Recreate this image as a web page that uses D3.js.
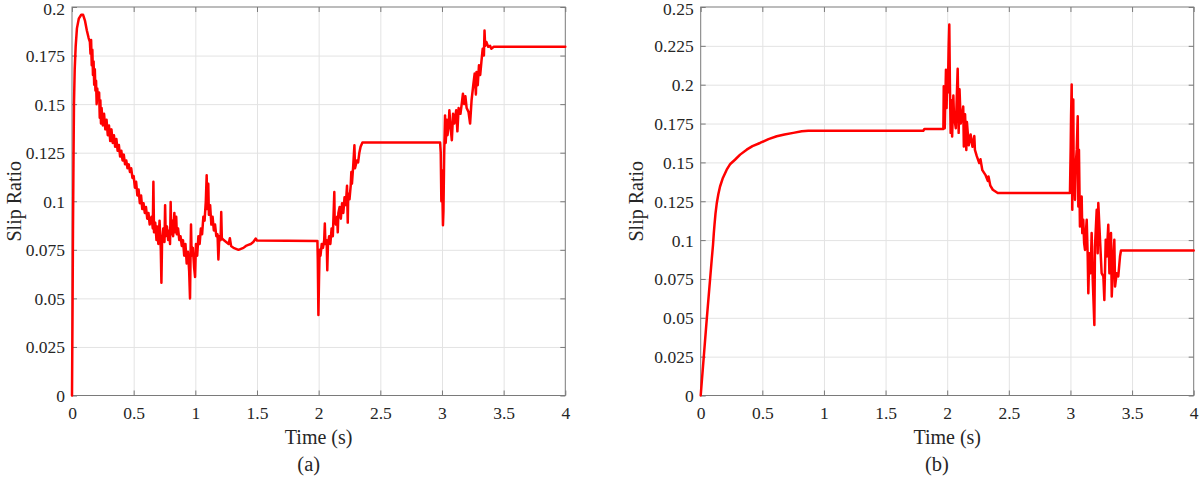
<!DOCTYPE html>
<html><head><meta charset="utf-8">
<script src="https://cdn.jsdelivr.net/npm/d3@7"></script>
<style>body{margin:0;background:#fff}svg{display:block}</style>
</head><body>
<svg id="chart" width="1200" height="480"></svg>
<script>
// ---- data ----
const timeA = [0,0.004,0.008,0.012,0.016,0.022,0.03,0.04,0.055,0.075,0.09,0.105,0.12,0.135,0.145,0.15,0.155,0.16,0.165,0.17,0.175,0.18,0.185,0.19,0.195,0.2,0.205,0.21,0.22,0.225,0.23,0.235,0.24,0.25,0.26,0.27,0.28,0.29,0.3,0.31,0.32,0.33,0.34,0.35,0.36,0.37,0.38,0.39,0.4,0.41,0.42,0.43,0.44,0.45,0.46,0.47,0.48,0.49,0.5,0.51,0.52,0.53,0.54,0.55,0.56,0.57,0.58,0.59,0.6,0.61,0.62,0.63,0.645,0.655,0.66,0.665,0.675,0.685,0.69,0.7,0.71,0.72,0.725,0.73,0.74,0.75,0.755,0.76,0.77,0.78,0.79,0.795,0.8,0.805,0.815,0.82,0.83,0.835,0.845,0.85,0.86,0.87,0.88,0.89,0.9,0.91,0.92,0.93,0.94,0.95,0.957,0.962,0.965,0.97,0.98,0.99,0.998,1.005,1.015,1.025,1.035,1.045,1.055,1.065,1.075,1.085,1.092,1.097,1.105,1.11,1.12,1.13,1.14,1.15,1.16,1.17,1.18,1.187,1.195,1.205,1.21,1.215,1.23,1.25,1.27,1.28,1.29,1.31,1.33,1.35,1.37,1.39,1.41,1.43,1.45,1.47,1.49,1.5,1.99,1.993,1.998,2.003,2.008,2.015,2.025,2.035,2.045,2.05,2.055,2.065,2.07,2.075,2.085,2.095,2.105,2.115,2.127,2.13,2.14,2.15,2.155,2.16,2.17,2.18,2.19,2.2,2.21,2.22,2.23,2.236,2.24,2.25,2.26,2.265,2.27,2.28,2.29,2.295,2.31,2.32,2.33,2.34,2.355,2.985,2.99,2.995,3.0,3.008,3.012,3.018,3.025,3.03,3.04,3.045,3.055,3.06,3.07,3.08,3.09,3.1,3.115,3.125,3.135,3.15,3.16,3.17,3.18,3.19,3.2,3.215,3.228,3.24,3.255,3.265,3.275,3.28,3.29,3.3,3.31,3.32,3.33,3.34,3.345,3.35,3.36,3.375,3.39,3.4,3.42,4.0];
const slipA = [0,0.04,0.085,0.12,0.15,0.168,0.18,0.189,0.194,0.196,0.196,0.193,0.188,0.184,0.182,0.176,0.183,0.17,0.178,0.165,0.172,0.16,0.168,0.157,0.162,0.15,0.158,0.152,0.156,0.143,0.152,0.14,0.148,0.139,0.145,0.137,0.142,0.134,0.139,0.131,0.137,0.13,0.134,0.128,0.132,0.126,0.129,0.123,0.126,0.121,0.124,0.119,0.121,0.117,0.119,0.115,0.117,0.112,0.113,0.107,0.11,0.103,0.106,0.099,0.103,0.096,0.099,0.094,0.097,0.091,0.094,0.088,0.092,0.086,0.11,0.084,0.089,0.08,0.087,0.078,0.09,0.075,0.058,0.078,0.086,0.079,0.098,0.082,0.087,0.08,0.085,0.078,0.0996,0.083,0.09,0.082,0.094,0.084,0.092,0.083,0.086,0.08,0.082,0.077,0.08,0.072,0.078,0.068,0.074,0.064,0.05,0.076,0.088,0.072,0.076,0.066,0.061,0.078,0.072,0.082,0.078,0.086,0.083,0.092,0.09,0.1,0.1134,0.096,0.109,0.093,0.098,0.088,0.092,0.085,0.088,0.082,0.083,0.07,0.082,0.08,0.0945,0.081,0.08,0.079,0.078,0.081,0.077,0.076,0.0755,0.075,0.0755,0.076,0.077,0.0775,0.078,0.079,0.0808,0.0798,0.0796,0.07,0.0414,0.06,0.075,0.072,0.078,0.076,0.08,0.0885,0.078,0.08,0.0645,0.077,0.082,0.078,0.086,0.082,0.1048,0.09,0.088,0.092,0.084,0.094,0.097,0.091,0.099,0.094,0.102,0.098,0.108,0.089,0.104,0.101,0.108,0.115,0.109,0.118,0.1288,0.117,0.121,0.12,0.125,0.128,0.1302,0.1302,0.125,0.1,0.116,0.0877,0.095,0.1245,0.1442,0.13,0.142,0.134,0.14,0.1468,0.138,0.1314,0.145,0.14,0.1468,0.136,0.148,0.145,0.15,0.1554,0.15,0.154,0.148,0.146,0.14,0.152,0.1605,0.1657,0.155,0.1665,0.1597,0.17,0.165,0.172,0.1785,0.175,0.1879,0.18,0.182,0.1795,0.18,0.1785,0.1795,0.1795];

const timeB = [0,0.05,0.09,0.1,0.106,0.112,0.12,0.13,0.143,0.157,0.18,0.211,0.24,0.278,0.32,0.373,0.42,0.481,0.55,0.617,0.68,0.751,0.82,0.873,1.806,1.815,1.969,1.972,1.98,1.99,1.995,2.0,2.005,2.012,2.017,2.022,2.028,2.035,2.04,2.05,2.055,2.07,2.085,2.093,2.1,2.11,2.12,2.13,2.135,2.145,2.155,2.16,2.175,2.19,2.205,2.22,2.225,2.24,2.26,2.27,2.285,2.31,2.33,2.335,2.35,2.37,2.41,2.996,3.002,3.005,3.01,3.015,3.019,3.023,3.027,3.031,3.037,3.044,3.051,3.059,3.064,3.069,3.077,3.084,3.091,3.096,3.104,3.111,3.118,3.125,3.132,3.14,3.145,3.153,3.164,3.172,3.181,3.194,3.199,3.213,3.221,3.226,3.24,3.253,3.267,3.275,3.286,3.294,3.307,3.316,3.329,3.335,3.348,3.356,3.362,3.375,3.388,3.402,3.41,4.0];
const slipB = [0,0.05,0.088,0.097,0.104,0.11,0.117,0.1235,0.1295,0.1345,0.14,0.1453,0.149,0.1517,0.155,0.1582,0.1605,0.1625,0.165,0.1668,0.168,0.169,0.17,0.1703,0.1704,0.1715,0.1715,0.199,0.172,0.2097,0.185,0.205,0.195,0.225,0.2387,0.2,0.169,0.19,0.1667,0.193,0.18,0.172,0.2102,0.169,0.197,0.175,0.18,0.186,0.1603,0.181,0.158,0.176,0.161,0.168,0.16,0.167,0.158,0.154,0.1496,0.152,0.145,0.142,0.138,0.141,0.135,0.1324,0.1303,0.1303,0.16,0.1797,0.2001,0.1195,0.175,0.1904,0.13,0.1432,0.126,0.15,0.1582,0.1797,0.1217,0.1582,0.1088,0.125,0.1281,0.1045,0.1131,0.098,0.0937,0.105,0.1131,0.0894,0.0658,0.0916,0.0787,0.1045,0.0744,0.0454,0.0959,0.1195,0.0916,0.1238,0.1002,0.0787,0.0766,0.0615,0.1002,0.0894,0.1099,0.0787,0.1045,0.0637,0.0894,0.1002,0.0701,0.0787,0.0766,0.0894,0.0933,0.0933];

const xTicks = [0,0.5,1,1.5,2,2.5,3,3.5,4];
const xTickLabels = ["0","0.5","1","1.5","2","2.5","3","3.5","4"];
const yTicksA = [0,0.025,0.05,0.075,0.1,0.125,0.15,0.175,0.2];
const yTickLabelsA = ["0","0.025","0.05","0.075","0.1","0.125","0.15","0.175","0.2"];
const yTicksB = [0,0.025,0.05,0.075,0.1,0.125,0.15,0.175,0.2,0.225,0.25];
const yTickLabelsB = ["0","0.025","0.05","0.075","0.1","0.125","0.15","0.175","0.2","0.225","0.25"];
const xTitle = "Time (s)";
const yTitle = "Slip Ratio";
const captions = ["(a)","(b)"];

// ---- drawing ----
const svg = d3.select("#chart");
const FONT = "'Liberation Serif','Times New Roman',serif";
const AXC = "#7a7a7a", TXC = "#262626", GRID = "#e3e3e3";

function panel(cfg){
  const x = d3.scaleLinear().domain([0,4]).range([cfg.left, cfg.right]);
  const y = d3.scaleLinear().domain([0,cfg.yMax]).range([cfg.bottom, cfg.top]);
  const g = svg.append("g");
  const h = cfg.bottom - cfg.top, w = cfg.right - cfg.left;

  // grid
  g.append("g").attr("transform",`translate(0,${cfg.bottom})`)
    .call(d3.axisBottom(x).tickValues(cfg.xTicks.slice(1,-1)).tickSize(-h).tickFormat(""))
    .call(s=>{s.select(".domain").remove(); s.selectAll("line").attr("stroke",GRID).attr("stroke-width",1);});
  g.append("g").attr("transform",`translate(${cfg.left},0)`)
    .call(d3.axisLeft(y).tickValues(cfg.yTicks.slice(1,-1)).tickSize(-w).tickFormat(""))
    .call(s=>{s.select(".domain").remove(); s.selectAll("line").attr("stroke",GRID).attr("stroke-width",1);});

  // box
  g.append("rect").attr("x",cfg.left).attr("y",cfg.top).attr("width",w).attr("height",h)
    .attr("fill","none").attr("stroke",AXC).attr("stroke-width",1);

  const style = s => {
    s.select(".domain").remove();
    s.selectAll("line").attr("stroke",AXC).attr("stroke-width",1);
    s.selectAll("text").attr("fill",TXC).attr("font-family",null).style("font-family",FONT).style("font-size","17.5px");
  };
  // bottom axis
  g.append("g").attr("transform",`translate(0,${cfg.bottom})`)
    .call(d3.axisBottom(x).tickValues(cfg.xTicks).tickSizeInner(-5).tickSizeOuter(0)
      .tickFormat((d,i)=>cfg.xTickLabels[i]))
    .call(style)
    .call(s=>s.selectAll("text").attr("y",23.5).attr("dy",null));
  // top axis ticks
  g.append("g").attr("transform",`translate(0,${cfg.top})`)
    .call(d3.axisTop(x).tickValues(cfg.xTicks).tickSizeInner(-5).tickSizeOuter(0).tickFormat(""))
    .call(style);
  // left axis
  g.append("g").attr("transform",`translate(${cfg.left},0)`)
    .call(d3.axisLeft(y).tickValues(cfg.yTicks).tickSizeInner(-5).tickSizeOuter(0)
      .tickFormat((d,i)=>cfg.yTickLabels[i]))
    .call(style)
    .call(s=>s.selectAll("text").attr("x",-7).attr("dy","0.34em")
      .filter(d=>d===cfg.yMax).attr("dy","0.45em"));
  // right axis ticks
  g.append("g").attr("transform",`translate(${cfg.right},0)`)
    .call(d3.axisRight(y).tickValues(cfg.yTicks).tickSizeInner(-5).tickSizeOuter(0).tickFormat(""))
    .call(style);

  // data line
  const line = d3.line().x((d,i)=>x(cfg.t[i])).y(d=>y(d));
  g.append("path").datum(cfg.v).attr("d",line)
    .attr("fill","none").attr("stroke","#ff0000").attr("stroke-width",2.5)
    .attr("stroke-linejoin","round").attr("stroke-linecap","round");

  // titles
  g.append("text").attr("x",(cfg.left+cfg.right)/2).attr("y",443.5)
    .attr("text-anchor","middle").attr("fill",TXC)
    .style("font-family",FONT).style("font-size","20px").text(xTitle);
  g.append("text").attr("transform",`translate(${cfg.ylabX},${(cfg.top+cfg.bottom)/2}) rotate(-90)`)
    .attr("text-anchor","middle").attr("fill",TXC)
    .style("font-family",FONT).style("font-size","20px").text(yTitle);
  g.append("text").attr("x",cfg.capX).attr("y",471)
    .attr("text-anchor","middle").attr("fill",TXC)
    .style("font-family",FONT).style("font-size","20.5px").text(cfg.caption);
}

panel({left:72,right:565.3,top:7,bottom:395.5,yMax:0.2,
  xTicks:xTicks,xTickLabels:xTickLabels,yTicks:yTicksA,yTickLabels:yTickLabelsA,
  t:timeA,v:slipA,ylabX:21,capX:308.7,caption:captions[0]});
panel({left:700.7,right:1193.7,top:7,bottom:395.5,yMax:0.25,
  xTicks:xTicks,xTickLabels:xTickLabels,yTicks:yTicksB,yTickLabels:yTickLabelsB,
  t:timeB,v:slipB,ylabX:643,capX:937,caption:captions[1]});
</script>
</body></html>
